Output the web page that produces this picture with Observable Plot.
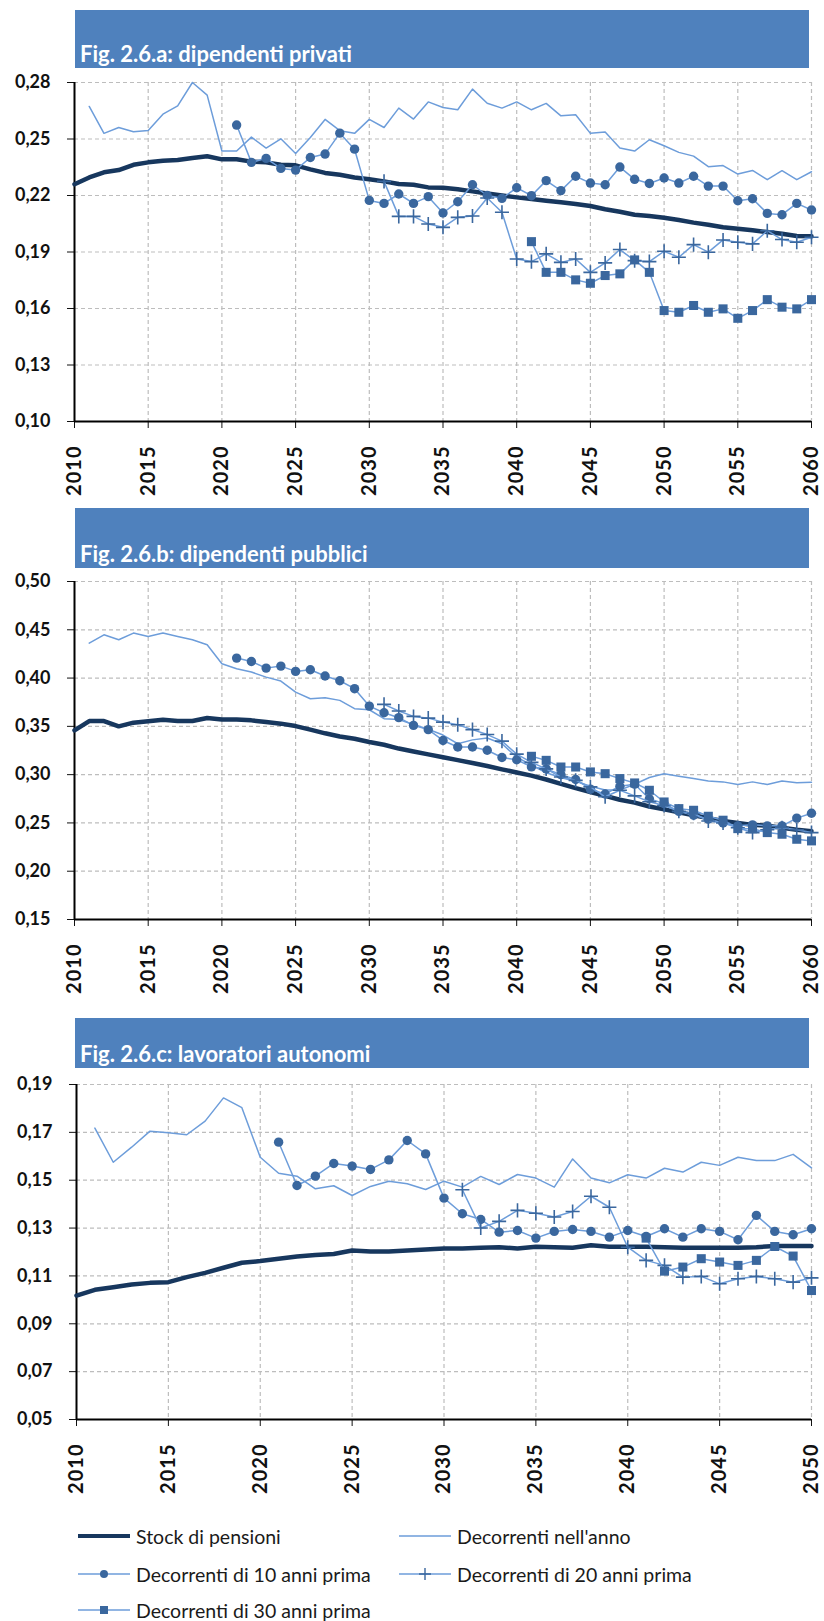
<!DOCTYPE html>
<html>
<head>
<meta charset="utf-8">
<script src="https://cdn.jsdelivr.net/npm/d3@7"></script>
<script src="https://cdn.jsdelivr.net/npm/@observablehq/plot@0.6"></script>
<style>
  html, body { margin: 0; padding: 0; background: #fff; }
  #root { position: relative; width: 824px; height: 1621px; overflow: hidden; font-family: Lato, "Open Sans", sans-serif; }
  .bar { position: absolute; left: 75px; width: 734px; background: #4F81BD; color: #fff; font-weight: bold; font-size: 22px;
         box-sizing: border-box; padding-left: 5px; padding-bottom: 1px; display: flex; align-items: flex-end; }
  .panel { position: absolute; left: 0; }
  .leg { position: absolute; font-size: 19.5px; color: #1a1a1a; display: flex; align-items: center; height: 22px; }
  .leg svg { margin-right: 6px; }
  .xax text { font-size: 20px; letter-spacing: 1px; }
</style>
</head>
<body>
<div id="root"></div>
<script>
// ---------- DATA ----------
const legendLabels = ["Stock di pensioni", "Decorrenti nell'anno", "Decorrenti di 10 anni prima", "Decorrenti di 20 anni prima", "Decorrenti di 30 anni prima"];
const titles = ["Fig. 2.6.a: dipendenti privati", "Fig. 2.6.b: dipendenti pubblici", "Fig. 2.6.c: lavoratori autonomi"];

// Panel a (2010-2060)
const yTicksA = [0.10, 0.13, 0.16, 0.19, 0.22, 0.25, 0.28];
const stockA = [0.226, 0.2296, 0.2323, 0.2335, 0.2363, 0.2376, 0.2385, 0.2388, 0.2399, 0.2408,
  0.2392, 0.2392, 0.238, 0.2376, 0.2363, 0.236, 0.2339, 0.232, 0.231, 0.2296,
  0.2286, 0.2275, 0.2261, 0.2257, 0.2243, 0.2241, 0.2233, 0.2222, 0.2211, 0.22,
  0.219, 0.2181, 0.2172, 0.2164, 0.2155, 0.2144, 0.2127, 0.2114, 0.2098, 0.2091,
  0.2082, 0.207, 0.2056, 0.2045, 0.2031, 0.2024, 0.2015, 0.2006, 0.1997, 0.1985, 0.1983]; // from 2010
const annoA = [0.2673, 0.253, 0.2561, 0.2538, 0.2545, 0.2632, 0.2676, 0.28, 0.2733, 0.2436,
  0.2436, 0.251, 0.2452, 0.2501, 0.2423, 0.2508, 0.2604, 0.2544, 0.253, 0.2604,
  0.2561, 0.2664, 0.2606, 0.2697, 0.2667, 0.2655, 0.2765, 0.269, 0.2664, 0.2697,
  0.2655, 0.2689, 0.2623, 0.2629, 0.253, 0.2537, 0.2452, 0.2436, 0.2496, 0.2464,
  0.2429, 0.2409, 0.2353, 0.2359, 0.2314, 0.2333, 0.2284, 0.2332, 0.2284, 0.2326]; // from 2011
const dieciA = [0.2574, 0.2376, 0.2397, 0.2344, 0.2335, 0.2402, 0.242, 0.2531, 0.2446, 0.2174,
  0.2158, 0.2208, 0.2158, 0.2194, 0.2107, 0.2167, 0.2257, 0.220, 0.2185, 0.2241,
  0.2199, 0.2279, 0.2226, 0.2302, 0.2266, 0.2257, 0.2351, 0.2286, 0.2264, 0.2293,
  0.2266, 0.2302, 0.225, 0.225, 0.2172, 0.2183, 0.2105, 0.2098, 0.2158, 0.2123]; // from 2021
const ventiA = [0.2275, 0.2089, 0.2089, 0.2049, 0.2031, 0.2084, 0.2091, 0.2187, 0.2111, 0.1863,
  0.1849, 0.189, 0.1845, 0.1863, 0.1792, 0.1842, 0.1913, 0.1854, 0.1849, 0.1904,
  0.1872, 0.1939, 0.1899, 0.1964, 0.1952, 0.1943, 0.2013, 0.1966, 0.1952, 0.1978]; // from 2031
const trentaA = [0.1955, 0.1792, 0.1792, 0.1752, 0.1734, 0.1775, 0.1784, 0.1858, 0.1792, 0.1589,
  0.158, 0.1616, 0.158, 0.1598, 0.1548, 0.1589, 0.1647, 0.1607, 0.1598, 0.1647]; // from 2041

// Panel b (2010-2060)
const yTicksB = [0.15, 0.20, 0.25, 0.30, 0.35, 0.40, 0.45, 0.50];
const stockB = [0.3459, 0.3555, 0.3555, 0.35, 0.3538, 0.3552, 0.3569, 0.3555, 0.3555, 0.3586,
  0.3572, 0.3572, 0.3562, 0.3545, 0.3528, 0.3503, 0.3466, 0.3428, 0.3395, 0.3372,
  0.3338, 0.331, 0.327, 0.324, 0.321, 0.318, 0.315, 0.312, 0.309, 0.3055,
  0.3022, 0.299, 0.295, 0.2905, 0.286, 0.282, 0.278, 0.274, 0.271, 0.267,
  0.264, 0.261, 0.258, 0.255, 0.252, 0.250, 0.248, 0.247, 0.245, 0.243, 0.2415]; // from 2010
const annoB = [0.4362, 0.4448, 0.4397, 0.4466, 0.4431, 0.4466, 0.4431, 0.4397, 0.4345, 0.4148,
  0.4097, 0.4062, 0.401, 0.3969, 0.3855, 0.3786, 0.3797, 0.3769, 0.3683, 0.3672,
  0.358, 0.357, 0.352, 0.347, 0.341, 0.332, 0.336, 0.338, 0.332, 0.318,
  0.31, 0.302, 0.297, 0.293, 0.288, 0.284, 0.284, 0.290, 0.297, 0.301,
  0.2983, 0.2959, 0.2935, 0.2925, 0.2898, 0.2925, 0.2898, 0.2935, 0.2915, 0.2922]; // from 2011
const dieciB = [0.4207, 0.4172, 0.4103, 0.4124, 0.4069, 0.4086, 0.4021, 0.3972, 0.389, 0.371,
  0.3641, 0.359, 0.351, 0.3466, 0.3354, 0.3286, 0.3286, 0.3253, 0.3178, 0.3154,
  0.308, 0.306, 0.300, 0.295, 0.285, 0.280, 0.288, 0.290, 0.275, 0.270,
  0.262, 0.258, 0.254, 0.250, 0.247, 0.248, 0.247, 0.247, 0.255, 0.260]; // from 2021
const ventiB = [0.3728, 0.3659, 0.3603, 0.3585, 0.3544, 0.3517, 0.3466, 0.3415, 0.3347, 0.3212,
  0.3127, 0.306, 0.2975, 0.2941, 0.2873, 0.2771, 0.2839, 0.278, 0.272, 0.268,
  0.262, 0.26, 0.252, 0.25, 0.245, 0.24, 0.243, 0.245, 0.243, 0.240]; // from 2031
const trentaB = [0.319, 0.3148, 0.3079, 0.3079, 0.3028, 0.301, 0.2959, 0.2914, 0.2838, 0.2717,
  0.2648, 0.2631, 0.2569, 0.2528, 0.2441, 0.244, 0.24, 0.2383, 0.2331, 0.2314]; // from 2041

// Panel c (2010-2050)
const yTicksC = [0.05, 0.07, 0.09, 0.11, 0.13, 0.15, 0.17, 0.19];
const stockC = [0.1018, 0.1042, 0.1053, 0.1064, 0.1071, 0.1074, 0.1095, 0.1113, 0.1134, 0.1155,
  0.1162, 0.1172, 0.1181, 0.1187, 0.1192, 0.1206, 0.1202, 0.1202, 0.1206, 0.121,
  0.1215, 0.1215, 0.1218, 0.122, 0.1215, 0.1222, 0.122, 0.1218, 0.1228, 0.1222,
  0.1222, 0.1222, 0.122, 0.1218, 0.1218, 0.1218, 0.1218, 0.122, 0.1225, 0.1225, 0.1225]; // from 2010
const annoC = [0.1718, 0.1575, 0.1638, 0.1705, 0.1698, 0.169, 0.1747, 0.1844, 0.1803, 0.1596,
  0.1529, 0.1517, 0.1464, 0.1477, 0.1436, 0.1474, 0.1496, 0.1485, 0.1461, 0.1496,
  0.1471, 0.1516, 0.1482, 0.1524, 0.1509, 0.1471, 0.1589, 0.1509, 0.1489, 0.1523,
  0.1509, 0.155, 0.1534, 0.1575, 0.1562, 0.1596, 0.1582, 0.1582, 0.1608, 0.1552]; // from 2011
const dieciC = [0.1659, 0.1478, 0.1517, 0.157, 0.1559, 0.1545, 0.1585, 0.1666, 0.161, 0.1425,
  0.136, 0.1336, 0.1283, 0.129, 0.1258, 0.1286, 0.1294, 0.1286, 0.1262, 0.129,
  0.1265, 0.1297, 0.1262, 0.1297, 0.1286, 0.1251, 0.1353, 0.1286, 0.1272, 0.1297]; // from 2021
const ventiC = [0.146, 0.13, 0.1328, 0.1374, 0.1362, 0.1346, 0.1369, 0.1433, 0.1387, 0.122,
  0.1165, 0.1144, 0.1095, 0.1098, 0.1067, 0.1088, 0.1098, 0.1088, 0.1074, 0.1092]; // from 2031
const trentaC = [0.1258, 0.112, 0.1137, 0.1172, 0.1158, 0.1144, 0.1165, 0.1223, 0.1183, 0.1039]; // from 2041

// ---------- STYLE ----------
const NAVY = "#17375E", LIGHT = "#6D9DDA", DARK = "#3A679E";
const GRID = "#BDBDBD";

const toRows = (arr, start) => arr.map((v, i) => ({year: start + i, value: v}));
const fmt = d => d.toFixed(2).replace(".", ",");

function makePanel(cfg) {
  const {series, yTicks, xEnd, marginTop, plotH, marginLeft} = cfg;
  const xTicks = d3.range(2010, xEnd + 1, 5);
  const [stock, anno, dieci, venti, trenta] = series;
  const ymin = yTicks[0], ymax = yTicks[yTicks.length - 1];
  return Plot.plot({
    width: 824,
    height: marginTop + plotH + 79,
    marginTop, marginBottom: 79, marginLeft, marginRight: 13,
    style: {fontFamily: "Lato, sans-serif", fontSize: "18px", fontWeight: "bold", color: "#111", background: "transparent", overflow: "visible"},
    x: {domain: [2010, xEnd], label: null, axis: null},
    y: {domain: [ymin, ymax], ticks: yTicks, tickFormat: fmt, tickSize: 7, tickPadding: 17, label: null},
    marks: [
      Plot.gridX(xTicks.slice(1), {stroke: GRID, strokeOpacity: 1, strokeDasharray: "4,3", strokeWidth: 1.2}),
      Plot.gridY(yTicks.slice(1), {stroke: GRID, strokeOpacity: 1, strokeDasharray: "4,3", strokeWidth: 1.2}),
      Plot.axisX(xTicks, {tickFormat: d => String(d), tickRotate: -90, tickSize: 7, tickPadding: 17, label: null, className: "xax"}),
      Plot.ruleX([2010], {stroke: "#000", strokeWidth: 2}),
      Plot.ruleY([ymin], {stroke: "#000", strokeWidth: 2}),
      Plot.line(stock, {x: "year", y: "value", stroke: NAVY, strokeWidth: 4.5}),
      Plot.line(anno, {x: "year", y: "value", stroke: LIGHT, strokeWidth: 1.5}),
      Plot.line(dieci, {x: "year", y: "value", stroke: LIGHT, strokeWidth: 1.5}),
      Plot.dot(dieci, {x: "year", y: "value", r: 4.7, fill: DARK, symbol: "circle"}),
      Plot.line(venti, {x: "year", y: "value", stroke: LIGHT, strokeWidth: 1.5}),
      Plot.dot(venti, {x: "year", y: "value", r: 4.6, stroke: DARK, strokeWidth: 1.6, fill: "none", symbol: "plus"}),
      Plot.line(trenta, {x: "year", y: "value", stroke: LIGHT, strokeWidth: 1.5}),
      Plot.dot(trenta, {x: "year", y: "value", r: 5.1, fill: DARK, symbol: "square"})
    ]
  });
}

const root = document.getElementById("root");
function addBar(text, top, h) {
  const d = document.createElement("div");
  d.className = "bar";
  d.style.top = top + "px";
  d.style.height = h + "px";
  d.textContent = text;
  root.appendChild(d);
}
function addPanel(node, top) {
  const d = document.createElement("div");
  d.className = "panel";
  d.style.top = top + "px";
  d.appendChild(node);
  root.appendChild(d);
}

addBar(titles[0], 10, 58);
addPanel(makePanel({
  series: [toRows(stockA, 2010), toRows(annoA, 2011), toRows(dieciA, 2021), toRows(ventiA, 2031), toRows(trentaA, 2041)],
  yTicks: yTicksA, xEnd: 2060, marginTop: 12, plotH: 339, marginLeft: 74
}), 70);

addBar(titles[1], 508, 60);
addPanel(makePanel({
  series: [toRows(stockB, 2010), toRows(annoB, 2011), toRows(dieciB, 2021), toRows(ventiB, 2031), toRows(trentaB, 2041)],
  yTicks: yTicksB, xEnd: 2060, marginTop: 11, plotH: 338, marginLeft: 74
}), 570);

addBar(titles[2], 1018, 50);
addPanel(makePanel({
  series: [toRows(stockC, 2010), toRows(annoC, 2011), toRows(dieciC, 2021), toRows(ventiC, 2031), toRows(trentaC, 2041)],
  yTicks: yTicksC, xEnd: 2050, marginTop: 14, plotH: 335, marginLeft: 76
}), 1070);

// ---------- LEGEND ----------
function swatch(kind) {
  const ns = "http://www.w3.org/2000/svg";
  const s = document.createElementNS(ns, "svg");
  s.setAttribute("width", 52); s.setAttribute("height", 16);
  const line = document.createElementNS(ns, "line");
  line.setAttribute("x1", 0); line.setAttribute("x2", 52); line.setAttribute("y1", 8); line.setAttribute("y2", 8);
  line.setAttribute("stroke", kind === 0 ? NAVY : LIGHT);
  line.setAttribute("stroke-width", kind === 0 ? 4 : 1.5);
  s.appendChild(line);
  if (kind === 2) {
    const c = document.createElementNS(ns, "circle");
    c.setAttribute("cx", 26); c.setAttribute("cy", 8); c.setAttribute("r", 4); c.setAttribute("fill", DARK);
    s.appendChild(c);
  } else if (kind === 3) {
    const p = document.createElementNS(ns, "path");
    p.setAttribute("d", "M20,8H32M26,2V14"); p.setAttribute("stroke", DARK); p.setAttribute("stroke-width", 1.4);
    s.appendChild(p);
  } else if (kind === 4) {
    const r = document.createElementNS(ns, "rect");
    r.setAttribute("x", 22); r.setAttribute("y", 4); r.setAttribute("width", 8); r.setAttribute("height", 8); r.setAttribute("fill", DARK);
    s.appendChild(r);
  }
  return s;
}
const legPos = [[78, 1525], [399, 1525], [78, 1563], [399, 1563], [78, 1599]];
legendLabels.forEach((lab, i) => {
  const d = document.createElement("div");
  d.className = "leg";
  d.style.left = legPos[i][0] + "px";
  d.style.top = legPos[i][1] + "px";
  d.appendChild(swatch(i));
  const t = document.createElement("span");
  t.textContent = lab;
  d.appendChild(t);
  root.appendChild(d);
});
</script>
</body>
</html>
